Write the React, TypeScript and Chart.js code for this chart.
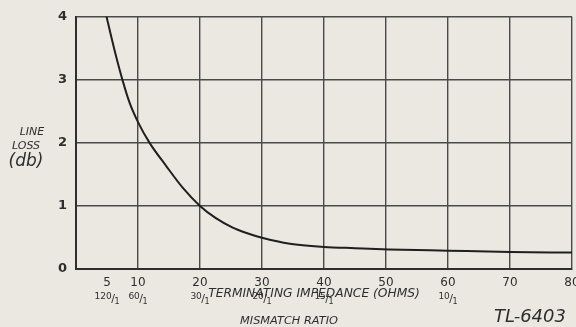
import { useEffect, useRef } from "react";
import { Chart, registerables } from "chart.js";

Chart.register(...registerables);

// Terminating impedance (ohms) and line loss (db)
const impedance = [4.6, 4.93, 6.27, 7.49, 8.67, 10, 11.87, 14.5, 17.2, 20, 22.5, 25.2, 27.5, 30, 34.5, 40, 45, 50.5, 60, 70, 80];
const lineLoss = [4.14, 4.0, 3.45, 3.0, 2.63, 2.33, 2.0, 1.64, 1.29, 1.0, 0.81, 0.66, 0.57, 0.495, 0.4, 0.35, 0.33, 0.31, 0.29, 0.27, 0.26];

const xTickValues = [5, 10, 20, 30, 40, 50, 60, 70, 80];
const xTickLabels = ["5", "10", "20", "30", "40", "50", "60", "70", "80"];
// mismatch ratio (numerator / denominator) shown under some impedance ticks
const mismatchValues = [5, 10, 20, 30, 40, 60];
const mismatchLabels = ["120/1", "60/1", "30/1", "20/1", "15/1", "10/1"];
const yTickValues = [0, 1, 2, 3, 4];

const xTitle = "TERMINATING IMPEDANCE (OHMS)";
const xSubTitle = "MISMATCH RATIO";
const yTitleLines = ["LINE", "LOSS", "(db)"];
const figureCode = "TL-6403";

const BG = "#ebe8e2";
const INK = "#2e2e2e";
const GRID = "#4a4a4a";
const FAM = '"DejaVu Sans", sans-serif';

function fitText(ctx: CanvasRenderingContext2D, text: string, cx: number, cy: number, width: number, style: string) {
  ctx.font = `${style} 20px ${FAM}`;
  const w = ctx.measureText(text).width;
  const size = (20 * width) / w;
  ctx.font = `${style} ${size.toFixed(2)}px ${FAM}`;
  ctx.textAlign = "center";
  ctx.textBaseline = "middle";
  ctx.fillText(text, cx, cy);
}

function drawFraction(ctx: CanvasRenderingContext2D, label: string, cx: number, cy: number) {
  const [num, den] = label.split("/");
  ctx.textBaseline = "middle";
  ctx.textAlign = "left";
  ctx.font = `9px ${FAM}`;
  const wn = ctx.measureText(num).width;
  ctx.font = `11px ${FAM}`;
  const ws = ctx.measureText("/").width;
  ctx.font = `8px ${FAM}`;
  const wd = ctx.measureText(den).width;
  const total = wn + ws - 1 + wd;
  let x = cx - total / 2;
  ctx.font = `9px ${FAM}`;
  ctx.fillText(num, x, cy - 2);
  x += wn - 0.5;
  ctx.font = `11px ${FAM}`;
  ctx.fillText("/", x, cy);
  x += ws - 0.5;
  ctx.font = `8px ${FAM}`;
  ctx.fillText(den, x, cy + 3);
}

const textPlugin = {
  id: "extraText",
  afterDraw(chart: any) {
    const ctx = chart.ctx as CanvasRenderingContext2D;
    const xs = chart.scales.x;
    ctx.save();
    ctx.fillStyle = INK;
    mismatchValues.forEach((v, i) => drawFraction(ctx, mismatchLabels[i], xs.getPixelForValue(v), 299));
    fitText(ctx, xTitle, 314, 294, 212, "italic");
    fitText(ctx, xSubTitle, 289, 321, 98, "italic");
    ctx.textAlign = "center";
    ctx.textBaseline = "middle";
    ctx.font = `italic 18px ${FAM}`;
    ctx.fillText(figureCode, 530, 317);
    ctx.font = `italic 11px ${FAM}`;
    ctx.fillText(yTitleLines[0], 32, 132);
    ctx.fillText(yTitleLines[1], 26, 146);
    ctx.font = `italic 17px ${FAM}`;
    ctx.fillText(yTitleLines[2], 26, 162);
    ctx.restore();
  },
};

export default function App() {
  const ref = useRef<HTMLCanvasElement | null>(null);

  useEffect(() => {
    const canvas = ref.current;
    if (!canvas) return;
    const chart = new Chart(canvas, {
      type: "line",
      data: {
        datasets: [
          {
            data: impedance.map((x, i) => ({ x, y: lineLoss[i] })),
            borderColor: "#1f1f1f",
            borderWidth: 2,
            pointRadius: 0,
            cubicInterpolationMode: "monotone",
            fill: false,
          },
        ],
      },
      options: {
        animation: false,
        responsive: false,
        devicePixelRatio: 1,
        layout: { padding: { left: 0, top: 15, right: 28, bottom: 0 } },
        plugins: { legend: { display: false }, tooltip: { enabled: false } },
        scales: {
          x: {
            type: "linear",
            min: 0,
            max: 80,
            afterBuildTicks: (s: any) => {
              s.ticks = xTickValues.map((v) => ({ value: v }));
            },
            afterFit: (s: any) => {
              s.height = 327 - 269;
            },
            ticks: {
              autoSkip: false,
              maxRotation: 0,
              padding: 7,
              color: INK,
              font: { family: FAM, size: 12 },
              callback: (_v: any, i: number) => xTickLabels[i],
            },
            grid: {
              drawTicks: false,
              lineWidth: 1.4,
              color: (c: any) => (c.tick && c.tick.value === 5 ? "rgba(0,0,0,0)" : GRID),
            },
            border: { display: true, color: INK, width: 2 },
          },
          y: {
            min: 0,
            max: 4,
            afterBuildTicks: (s: any) => {
              s.ticks = yTickValues.map((v) => ({ value: v }));
            },
            afterFit: (s: any) => {
              s.width = 76;
            },
            ticks: {
              padding: 9,
              color: INK,
              font: { family: FAM, size: 13, weight: "bold" },
            },
            grid: { drawTicks: false, lineWidth: 1.4, color: GRID },
            border: { display: true, color: INK, width: 2 },
          },
        },
      },
      plugins: [textPlugin],
    } as any);
    return () => chart.destroy();
  }, []);

  return (
    <div style={{ position: "fixed", left: 0, top: 0, width: 576, height: 327, overflow: "hidden", background: BG }}>
      <canvas ref={ref} width={600} height={327} style={{ display: "block", width: 600, height: 327 }} />
    </div>
  );
}
